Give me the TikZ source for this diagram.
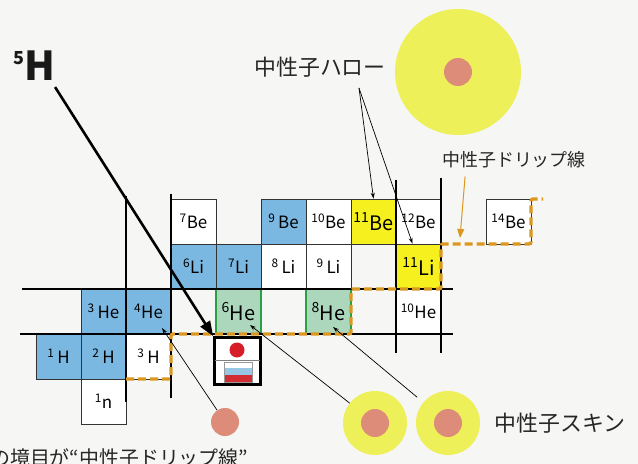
\documentclass[tikz,border=0pt]{standalone}
\usepackage{fontspec}
\setmainfont{Noto Sans CJK JP}
\usetikzlibrary{arrows.meta,calc}

\definecolor{paper}{RGB}{246,247,244}
\definecolor{stablecell}{RGB}{122,184,226}
\definecolor{skincell}{RGB}{172,215,188}
\definecolor{skinedge}{RGB}{40,160,70}
\definecolor{halocell}{RGB}{245,240,30}
\definecolor{haloglow}{RGB}{238,240,90}
\definecolor{corepink}{RGB}{222,140,122}
\definecolor{dripcol}{RGB}{218,152,32}
\definecolor{protonred}{RGB}{215,30,40}
\definecolor{flagblue}{RGB}{150,200,230}
\definecolor{flagred}{RGB}{210,45,50}

\newcommand{\nuc}[2]{\textsuperscript{#1}#2}

\tikzset{
  cell/.style={draw=black!80, line width=0.7bp, minimum size=45bp, inner sep=0pt,
    fill=white, font=\fontsize{17}{17}\selectfont},
  plaincell/.style={cell},
  bluecell/.style={cell, fill=stablecell},
  greencell/.style={cell, fill=skincell, draw=skinedge, line width=1.3bp, font=\fontsize{20}{20}\selectfont},
  yellowcell/.style={cell, fill=halocell, font=\fontsize{20}{20}\selectfont},
  magic/.style={line width=2.8bp, black},
  dripline/.style={line width=3.3bp, dripcol, dash pattern=on 8bp off 4bp, rounded corners=2bp},
  pointer/.style={line width=0.7bp, -{Stealth[length=6bp,width=4bp]}},
  jlabel/.style={inner sep=0pt, text=black!85, font=\fontsize{22}{22}\selectfont},
  ball/.style={circle, inner sep=0pt},
}

\begin{document}
\begin{tikzpicture}[x=1bp, y=-1bp]
  \useasboundingbox (0,0) rectangle (638,464);
  \clip (0,0) rectangle (638,464);
  \fill[paper] (0,0) rectangle (638,464);

  % halo and skin pictures
  \node[ball, fill=haloglow, minimum size=126bp] (halo) at (458,72) {};
  \node[ball, fill=corepink, minimum size=28bp] (halocore) at (halo) {};
  \node[ball, fill=haloglow, minimum size=64bp] (skinA) at (375,423) {};
  \node[ball, fill=corepink, minimum size=28bp] (skinAcore) at (skinA) {};
  \node[ball, fill=haloglow, minimum size=64bp] (skinB) at (448,423) {};
  \node[ball, fill=corepink, minimum size=28bp] (skinBcore) at (skinB) {};
  \node[ball, fill=corepink, minimum size=28bp] (proton) at (225,422) {};

  % nuclide cells: name / N / Z / style / label
  \foreach \nm/\n/\z/\sty/\lbl in {
      n1/1/0/plaincell/{\nuc{1}{n}},
      h1/0/1/bluecell/{\nuc{1}{\,H}}, h2/1/1/bluecell/{\nuc{2}{\,H}}, h3/2/1/plaincell/{\nuc{3}{\,H}},
      he3/1/2/bluecell/{\nuc{3}{\,He}}, he4/2/2/bluecell/{\nuc{4}{He}},
      he6/4/2/greencell/{\nuc{6}{He}}, he8/6/2/greencell/{\nuc{8}{He}}, he10/8/2/plaincell/{\nuc{10}{He}},
      li6/3/3/bluecell/{\nuc{6}{Li}}, li7/4/3/bluecell/{\nuc{7}{Li}},
      li8/5/3/plaincell/{\nuc{8}{\,Li}}, li9/6/3/plaincell/{\nuc{9}{\,Li}}, li11/8/3/yellowcell/{\nuc{11}{Li}},
      be7/3/4/plaincell/{\nuc{7}{Be}}, be9/5/4/bluecell/{\nuc{9}{\,Be}}, be10/6/4/plaincell/{\nuc{10}{Be}},
      be11/7/4/yellowcell/{\nuc{11}{Be}}, be12/8/4/plaincell/{\nuc{12}{Be}}, be14/10/4/plaincell/{\nuc{14}{Be}}}
    \node[\sty] (\nm) at ({58.5+45*\n},{401.5-45*\z}) {\lbl};

  % magic number lines
  \draw[magic] (22,289) -- (453,289);
  \draw[magic] (20,334) -- (453,334);
  \draw[magic] (126,196) -- (126,402);
  \draw[magic] (171,194) -- (171,398);
  \draw[magic] (396,180) -- (396,353);
  \draw[magic] (441,178) -- (441,353);

  % neutron drip line
  \draw[dripline] (126,379) -- (171,379) -- (171,334) -- (351,334) -- (351,289)
    -- (441,289) -- (441,244) -- (531,244) -- (531,199) -- (543,199);

  % 5H
  \node[draw, line width=2.6bp, fill=white, minimum width=46bp, minimum height=47bp, inner sep=0pt] (h5box) at (237.5,361) {};
  \draw[black!50, line width=0.6bp] (215,360) -- (260,360);
  \node[ball, fill=protonred, minimum size=15bp] (h5p) at (237,350) {};
  \fill[flagblue] (224,368) rectangle (252,375);
  \fill[flagred] (224,375) rectangle (252,382);
  \draw[black!40, line width=0.5bp] (224,362) rectangle (252,382);

  \node[inner sep=0pt, text=black!90, font=\bfseries\fontsize{40}{40}\selectfont] (h5lbl) at (34,66)
    {\raisebox{0.42em}{\fontsize{18}{18}\selectfont 5}H};
  \draw[line width=2.6bp, -{Triangle[length=15bp,width=11bp]}] ([yshift=-6bp]h5lbl.south east) -- (h5box.north west);

  % labels
  \node[jlabel] (halolbl) at (320,67) {中性子ハロー};
  \node[jlabel, font=\fontsize{18}{18}\selectfont] (dripl) at (514,160) {中性子ドリップ線};
  \node[jlabel] (skinlbl) at (560,423) {中性子スキン};
  \node[jlabel, anchor=west, font=\fontsize{20}{20}\selectfont] (boundary) at (-10,458) {の境目が“中性子ドリップ線”};

  % pointers
  \coordinate (halofoot) at (359,88);
  \draw[pointer] (halofoot) -- (be11.north);
  \draw[pointer] (halofoot) -- ([xshift=-6bp]li11.north);
  \coordinate (driptip) at (460,238);
  \draw[dripcol, line width=1bp, -{Triangle[length=9bp,width=7bp]}] ([xshift=23bp,yshift=-8bp]dripl.south west) -- (driptip);
  \draw[pointer] (skinA) -- ($(he6.center)+(11.5,13.5)$);
  \draw[pointer, shorten <=8bp] (skinB) -- ($(he8.center)+(4.5,15.5)$);
  \draw[pointer] (proton) -- ($(he4.center)+(13.5,16.5)$);
\end{tikzpicture}
\end{document}
